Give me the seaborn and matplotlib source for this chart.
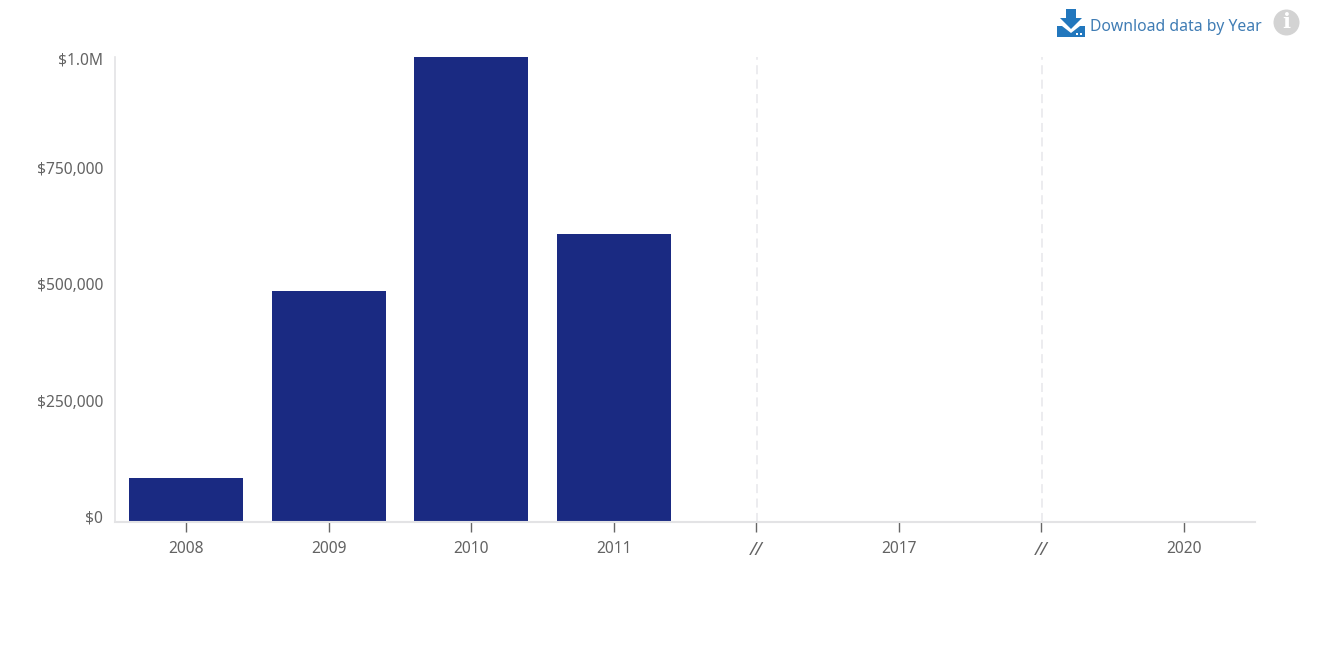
import matplotlib
matplotlib.use('Agg')
import matplotlib.pyplot as plt
from matplotlib.patches import Circle, Polygon, Rectangle
from matplotlib.transforms import ScaledTranslation
import pandas as pd
import seaborn as sns

# Values
categories = ['2008', '2009', '2010', '2011', 'gap 1', '2017', 'gap 2', '2020']
tick_labels = ['2008', '2009', '2010', '2011', '//', '2017', '//', '2020']
amounts = [95000, 497000, 1000000, 619000, 0, 0, 0, 0]
break_categories = ['gap 1', 'gap 2']
y_ticks = [0, 250000, 500000, 750000, 1000000]
y_labels = ['$0', '$250,000', '$500,000', '$750,000', '$1.0M']
y_label_shift_px = [5, 5, 5, 5, -2]

W, H = 1319, 648
TEXT = '#636363'
AXIS = '#e3e3e5'

sns.set_theme(style='white')
plt.rcParams['font.family'] = ['Noto Sans', 'DejaVu Sans']

df = pd.DataFrame({'year': categories, 'amount': amounts})

fig = plt.figure(figsize=(W / 100, H / 100), dpi=100)
ax = fig.add_axes([114.75 / W, 1 - 522 / H, (1255 - 114.75) / W, (522 - 57) / H])

sns.barplot(data=df, x='year', y='amount', order=categories, color='#1a2a82',
            saturation=1, width=0.8, linewidth=0, edgecolor='none', ax=ax)

ax.set_xlim(-0.5, len(categories) - 0.5)
ax.set_ylim(0, max(y_ticks))
ax.set_xlabel('')
ax.set_ylabel('')

# dashed guides above the axis breaks
for cat in break_categories:
    ax.axvline(categories.index(cat) + 0.005, color='#ebebee', lw=1.3, ls=(0, (5, 3)), zorder=0)

ax.set_xticks(range(len(categories)))
ax.set_xticklabels(tick_labels, fontsize=11.2, color=TEXT)
ax.set_yticks(y_ticks)
ax.set_yticklabels(y_labels, fontsize=11.2, color=TEXT)
ax.tick_params(axis='x', length=7, width=1, color='#666666', pad=7, bottom=True)
ax.tick_params(axis='y', length=0, pad=8.5)

# the // labels are slanted and a bit bigger
for lab in ax.get_xticklabels():
    if lab.get_text() == '//':
        lab.set_fontstyle('italic')
        lab.set_fontsize(13)

# y labels sit a little above their value in the original
for lab, shift in zip(ax.get_yticklabels(), y_label_shift_px):
    lab.set_transform(lab.get_transform() + ScaledTranslation(0, shift / 100, fig.dpi_scale_trans))

sns.despine(ax=ax)
ax.spines['left'].set_color(AXIS)
ax.spines['left'].set_linewidth(1.2)
ax.spines['bottom'].set_color(AXIS)
ax.spines['bottom'].set_linewidth(1.5)

# download link and info button, top right (pixel coordinates)
ov = fig.add_axes([0, 0, 1, 1], facecolor='none')
ov.set_xlim(0, W)
ov.set_ylim(H, 0)
ov.axis('off')
blue = '#2277bd'
ov.add_patch(Polygon([(1066, 9), (1076, 9), (1076, 18), (1082, 18), (1071, 29), (1060, 18), (1066, 18)],
                     closed=True, color=blue, lw=0))
ov.add_patch(Polygon([(1057, 26), (1062, 26), (1071, 33), (1080, 26), (1085, 26), (1085, 37), (1057, 37)],
                     closed=True, color=blue, lw=0))
ov.add_patch(Rectangle((1076, 33), 2, 1.5, color='white', lw=0))
ov.add_patch(Rectangle((1080, 33), 2, 1.5, color='white', lw=0))
ov.text(1090, 27, 'Download data by Year', fontsize=11.3, color='#3f7cb4', va='center', ha='left')
ov.add_patch(Circle((1286.5, 22.5), 13, color='#d3d3d3', lw=0))
ov.text(1286.5, 22.5, 'i', fontsize=15, fontweight='bold', family='DejaVu Serif', color='white',
        va='center', ha='center')

fig.savefig('out.png', dpi=100, facecolor='white')
